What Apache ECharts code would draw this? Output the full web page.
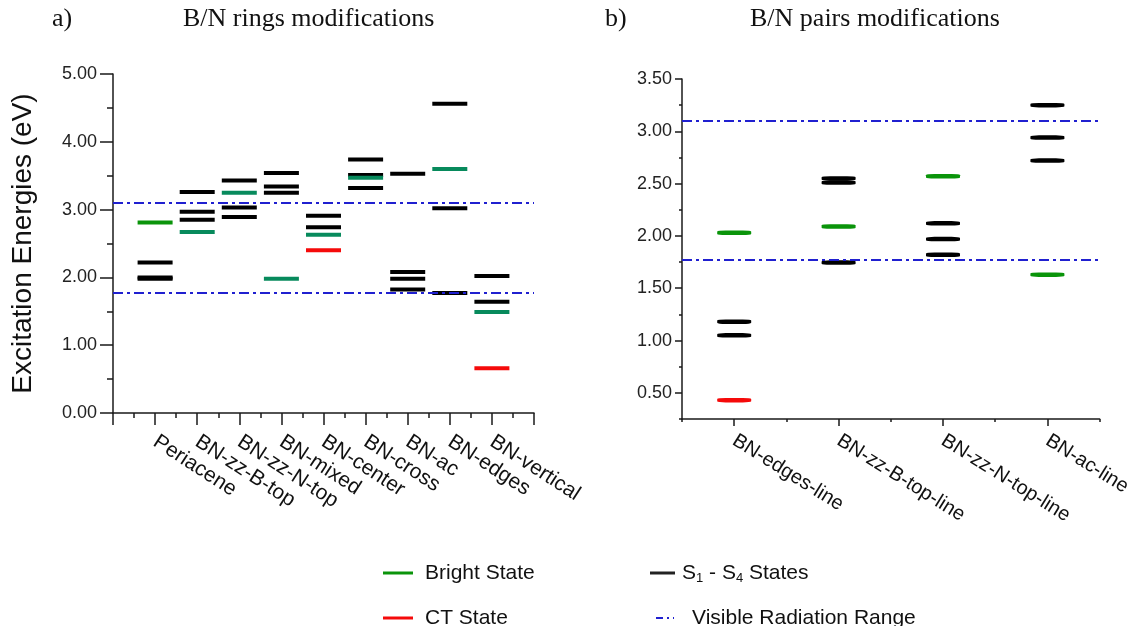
<!DOCTYPE html>
<html>
<head>
<meta charset="utf-8">
<script src="https://cdn.jsdelivr.net/npm/echarts@6/dist/echarts.min.js"></script>
<style>
  html, body { margin: 0; padding: 0; background: #fff; }
  #chart { width: 1134px; height: 626px; }
</style>
</head>
<body>
<div id="chart"></div>
<script>
// ---- a) B/N rings modifications ----
const ringCategories = ['Periacene', 'BN-zz-B-top', 'BN-zz-N-top', 'BN-mixed', 'BN-center',
                        'BN-cross', 'BN-ac', 'BN-edges', 'BN-vertical'];
// S1-S4 states (eV) per structure
const ringStates = [
  [1.98, 2.00, 2.22],
  [2.85, 2.97, 3.26],
  [2.89, 3.03, 3.43],
  [3.25, 3.34, 3.54],
  [2.74, 2.91],
  [3.32, 3.51, 3.74],
  [1.82, 1.98, 2.08, 3.53],
  [1.77, 3.02, 4.56],
  [1.64, 2.02]
];
const ringBright = [2.81, 2.67, 3.25, 1.98, 2.63, 3.47, null, 3.60, 1.49];
const ringCT = [null, null, null, null, 2.40, null, null, null, 0.66];
const ringTicks = [0, 1, 2, 3, 4, 5];

// ---- b) B/N pairs modifications ----
const pairCategories = ['BN-edges-line', 'BN-zz-B-top-line', 'BN-zz-N-top-line', 'BN-ac-line'];
const pairStates = [
  [1.05, 1.18],
  [1.745, 2.51, 2.55],
  [1.82, 1.97, 2.12],
  [2.72, 2.94, 3.25]
];
const pairBright = [2.03, 2.09, 2.57, 1.63];
const pairCT = [0.43, null, null, null];
const pairTicks = [0.5, 1.0, 1.5, 2.0, 2.5, 3.0, 3.5];

// visible radiation range, 400-700 nm (eV)
const visibleRange = [1.77, 3.10];

// ---- helpers ----
function statePoints(states, xOf) {
  const pts = [];
  states.forEach((arr, i) => arr.forEach(v => pts.push([xOf(i), v])));
  return pts;
}
function singlePoints(vals, xOf) {
  const pts = [];
  vals.forEach((v, i) => { if (v != null) pts.push([xOf(i), v]); });
  return pts;
}
const ringX = i => i + 1;
const pairX = i => i;

const BLACK = '#000000';
const GREEN = '#0a940a';
const TEAL = '#078a5c';
const RED = '#f50a0a';
const BLUE = '#2020d0';
const DASHDOT = [10, 4, 3, 4];
const axisCol = '#1a1a1a';
const sans = 'Arial, "Liberation Sans", sans-serif';
const serif = '"Times New Roman", "Liberation Serif", serif';

const visibleMarkLine = {
  silent: true,
  symbol: 'none',
  label: { show: false },
  lineStyle: { color: BLUE, width: 2, type: DASHDOT, opacity: 1 },
  data: visibleRange.map(v => ({ yAxis: v })),
  z: 10
};

const chart = echarts.init(document.getElementById('chart'), null, { renderer: 'canvas' });

const option = {
  animation: false,
  backgroundColor: '#fff',
  grid: [
    { left: 113, top: 74, width: 421, height: 339 },
    { left: 682, top: 79, width: 421, height: 340 }
  ],
  xAxis: [
    { // a) structure axis
      gridIndex: 0, type: 'value', position: 'bottom',
      min: 0, max: ringCategories.length + 1, interval: 1,
      axisLine: { lineStyle: { color: axisCol, width: 1.5 } },
      axisTick: { length: 12, lineStyle: { color: axisCol, width: 1.5 } },
      minorTick: { show: true, splitNumber: 2, length: 5, lineStyle: { color: axisCol, width: 1.5 } },
      splitLine: { show: false },
      axisLabel: {
        rotate: -33, margin: 27, color: '#111', fontFamily: sans, fontSize: 21,
        formatter: v => (v >= 1 && v <= ringCategories.length) ? ringCategories[v - 1] : ''
      }
    },
    { // b) structure axis
      gridIndex: 1, type: 'category', position: 'bottom', data: pairCategories, boundaryGap: true,
      axisLine: { lineStyle: { color: axisCol, width: 1.5 } },
      axisTick: { show: true, alignWithLabel: true, length: 7, lineStyle: { color: axisCol, width: 1.5 } },
      splitLine: { show: false },
      axisLabel: { rotate: -32, margin: 20, color: '#111', fontFamily: sans, fontSize: 20 }
    },
    { // b) boundary ticks between structures
      gridIndex: 1, type: 'value', position: 'bottom', min: 0, max: pairCategories.length, interval: 1,
      axisLine: { show: false },
      axisTick: { length: 3, lineStyle: { color: axisCol, width: 1.5 } },
      axisLabel: { show: false }, splitLine: { show: false }
    }
  ],
  yAxis: [
    {
      gridIndex: 0, type: 'value', position: 'left',
      min: ringTicks[0], max: ringTicks[ringTicks.length - 1], interval: 1,
      name: 'Excitation Energies (eV)', nameLocation: 'middle', nameGap: 76,
      nameTextStyle: { fontFamily: sans, fontSize: 28, color: '#111' },
      axisLine: { show: true, lineStyle: { color: axisCol, width: 1.5 } },
      axisTick: { show: true, length: 13, lineStyle: { color: axisCol, width: 1.5 } },
      minorTick: { show: true, splitNumber: 2, length: 6, lineStyle: { color: axisCol, width: 1.5 } },
      splitLine: { show: false },
      axisLabel: { margin: 16, color: '#222', fontFamily: sans, fontSize: 18, formatter: v => v.toFixed(2) }
    },
    {
      gridIndex: 1, type: 'value', position: 'left',
      min: 0.25, max: pairTicks[pairTicks.length - 1], interval: 0.25,
      axisLine: { show: true, lineStyle: { color: axisCol, width: 1.5 } },
      axisTick: { show: true, length: 3, lineStyle: { color: axisCol, width: 1.5 } },
      splitLine: { show: false },
      axisLabel: {
        margin: 10, color: '#222', fontFamily: sans, fontSize: 18,
        formatter: v => pairTicks.some(t => Math.abs(t - v) < 1e-6) ? v.toFixed(2) : ''
      }
    },
    { // b) major ticks
      gridIndex: 1, type: 'value', position: 'left', offset: 0,
      min: 0.25, max: pairTicks[pairTicks.length - 1],
      axisLine: { show: false },
      axisTick: { show: true, length: 7, customValues: pairTicks, lineStyle: { color: axisCol, width: 1.5 } },
      axisLabel: { show: false },
      splitLine: { show: false }
    }
  ],
  series: [
    // ---- a) ----
    {
      name: 'S1 - S4 States', type: 'scatter', xAxisIndex: 0, yAxisIndex: 0,
      symbol: 'rect', symbolSize: [35, 4], itemStyle: { color: BLACK, opacity: 1 },
      data: statePoints(ringStates, ringX), z: 3,
      markLine: visibleMarkLine
    },
    {
      name: 'Bright State', type: 'scatter', xAxisIndex: 0, yAxisIndex: 0,
      symbol: 'rect', symbolSize: [35, 4],
      itemStyle: { color: p => p.data[0] === 1 ? GREEN : TEAL, opacity: 1 },
      data: singlePoints(ringBright, ringX), z: 4
    },
    {
      name: 'CT State', type: 'scatter', xAxisIndex: 0, yAxisIndex: 0,
      symbol: 'rect', symbolSize: [35, 4], itemStyle: { color: RED, opacity: 1 },
      data: singlePoints(ringCT, ringX), z: 4
    },
    // ---- b) ----
    {
      name: 'S1 - S4 States', type: 'scatter', xAxisIndex: 1, yAxisIndex: 1,
      symbol: 'roundRect', symbolSize: [34, 4.5], itemStyle: { color: BLACK, opacity: 1 },
      data: statePoints(pairStates, pairX), z: 3,
      markLine: visibleMarkLine
    },
    {
      name: 'Bright State', type: 'scatter', xAxisIndex: 1, yAxisIndex: 1,
      symbol: 'roundRect', symbolSize: [34, 4.5], itemStyle: { color: GREEN, opacity: 1 },
      data: singlePoints(pairBright, pairX), z: 4
    },
    {
      name: 'CT State', type: 'scatter', xAxisIndex: 1, yAxisIndex: 1,
      symbol: 'roundRect', symbolSize: [34, 4.5], itemStyle: { color: RED, opacity: 1 },
      data: singlePoints(pairCT, pairX), z: 4
    }
  ],
  graphic: [
    // panel titles
    { type: 'text', left: 52, top: 6, style: { text: 'a)', font: '26px ' + serif, fill: '#111' } },
    { type: 'text', left: 183, top: 6, style: { text: 'B/N rings modifications', font: '26px ' + serif, fill: '#111' } },
    { type: 'text', left: 605, top: 6, style: { text: 'b)', font: '26px ' + serif, fill: '#111' } },
    { type: 'text', left: 750, top: 6, style: { text: 'B/N pairs modifications', font: '26px ' + serif, fill: '#111' } },
    // legend
    { type: 'line', shape: { x1: 383, y1: 573, x2: 413, y2: 573 }, style: { stroke: GREEN, lineWidth: 3 } },
    { type: 'text', x: 425, y: 573, style: { text: 'Bright State', font: '21px ' + sans, fill: '#111', verticalAlign: 'middle' } },
    { type: 'line', shape: { x1: 383, y1: 618, x2: 413, y2: 618 }, style: { stroke: RED, lineWidth: 3 } },
    { type: 'text', x: 425, y: 618, style: { text: 'CT State', font: '21px ' + sans, fill: '#111', verticalAlign: 'middle' } },
    { type: 'line', shape: { x1: 650, y1: 573, x2: 675, y2: 573 }, style: { stroke: '#222', lineWidth: 3 } },
    {
      type: 'text', x: 682, y: 573,
      style: {
        text: 'S{sub|1} - S{sub|4} States', font: '21px ' + sans, fill: '#111', verticalAlign: 'middle',
        rich: { sub: { fontSize: 13, fontFamily: sans, fill: '#111', verticalAlign: 'bottom', padding: [10, 0, 0, 0] } }
      }
    },
    { type: 'line', shape: { x1: 656, y1: 618, x2: 674, y2: 618 }, style: { stroke: BLUE, lineWidth: 2, lineDash: [7, 4, 2, 4] } },
    { type: 'text', x: 692, y: 618, style: { text: 'Visible Radiation Range', font: '21px ' + sans, fill: '#111', verticalAlign: 'middle' } }
  ]
};

chart.setOption(option);
</script>
</body>
</html>
